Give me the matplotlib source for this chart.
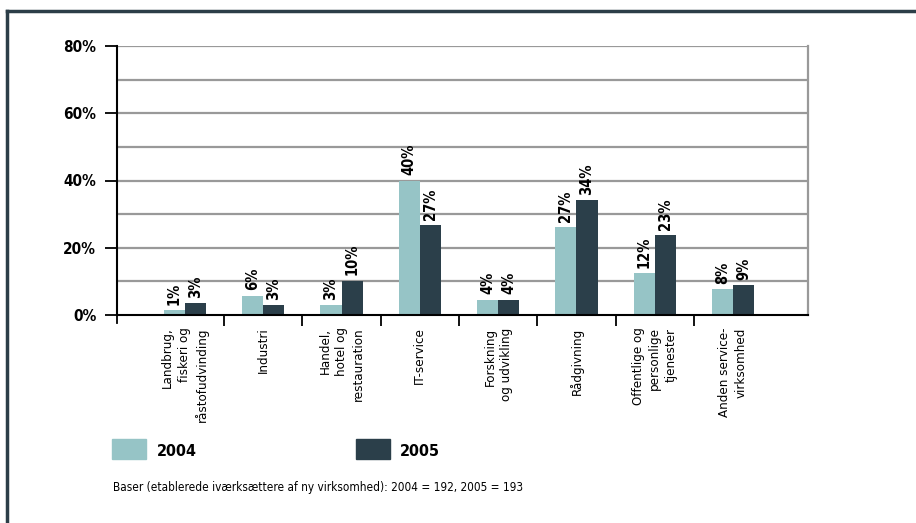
import numpy as np
import matplotlib.pyplot as plt
from matplotlib.lines import Line2D
from matplotlib.patches import Rectangle

plt.rcParams['font.family'] = ['DejaVu Sans']
plt.rcParams['font.stretch'] = 'condensed'
plt.rcParams['font.weight'] = 'bold'

kategorier = ["Landbrug,\nfiskeri og\nråstofudvinding", "Industri", "Handel,\nhotel og\nrestauration",
              "IT-service", "Forskning\nog udvikling", "Rådgivning",
              "Offentlige og\npersonlige\ntjenester", "Anden service-\nvirksomhed"]
v2004 = [1.5, 5.7, 3.0, 40.0, 4.5, 26.2, 12.5, 7.7]
v2005 = [3.6, 3.0, 10.2, 26.8, 4.5, 34.2, 23.8, 8.9]
lab2004 = ["1%", "6%", "3%", "40%", "4%", "27%", "12%", "8%"]
lab2005 = ["3%", "3%", "10%", "27%", "4%", "34%", "23%", "9%"]
yticks = [0, 20, 40, 60, 80]

lys = "#96c4c6"
mork = "#2b3f4a"
kant = "#2c3e48"

fig = plt.figure(figsize=(9.16, 5.23), dpi=100)
W, H = 916, 523
ax = fig.add_axes([117 / W, 1 - 315 / H, (808 - 117) / W, (315 - 46) / H])

x = np.arange(len(kategorier))
bw = 0.27
ax.bar(x - bw / 2, v2004, bw, color=lys, zorder=3)
ax.bar(x + bw / 2, v2005, bw, color=mork, zorder=3)

for i in range(len(x)):
    ax.text(x[i] - bw / 2, v2004[i] + 1.6, lab2004[i], rotation=90, ha='center', va='bottom',
            fontsize=10.5, zorder=4)
    ax.text(x[i] + bw / 2, v2005[i] + 1.6, lab2005[i], rotation=90, ha='center', va='bottom',
            fontsize=10.5, zorder=4)

ax.set_xlim(-0.868, 7.957)
ax.set_ylim(0, 80)
for g in range(10, 81, 10):
    ax.axhline(g, color="#999999", lw=1.6, zorder=1)

ax.set_yticks(yticks)
ax.set_yticklabels([f"{t}%" for t in yticks], fontsize=11)
ax.tick_params(axis='y', length=9, width=1.3, color='black', pad=6)

ax.set_xticks(np.arange(0.5, 7, 1))
ax.set_xticklabels([])
ax.tick_params(axis='x', length=8, width=1.3, color='black')
ax.plot([-0.868, -0.868], [0, -2.5], color='black', lw=1.3, clip_on=False)

for s in ['left', 'bottom']:
    ax.spines[s].set_color('black')
    ax.spines[s].set_linewidth(1.5)
    ax.spines[s].set_zorder(5)
ax.spines['right'].set_color('#999999')
ax.spines['right'].set_linewidth(1.6)
ax.spines['top'].set_visible(False)

for i, k in enumerate(kategorier):
    ax.annotate(k, xy=(x[i], 0), xycoords='data', xytext=(0, -9), textcoords='offset points',
                rotation=90, ha='center', va='top', multialignment='right', fontsize=9.5,
                linespacing=1.35, fontweight='normal')

# ramme: kun top og venstre
fig.add_artist(Line2D([7 / W, 1], [1 - 10.5 / H, 1 - 10.5 / H], color=kant, lw=2.5))
fig.add_artist(Line2D([7 / W, 7 / W], [0, 1 - 10.5 / H], color=kant, lw=2.5))

# legend
fig.add_artist(Rectangle((112 / W, 1 - 459 / H), 34 / W, 20 / H, color=lys))
fig.text(157 / W, 1 - 452 / H, "2004", fontsize=11.5, va='center')
fig.add_artist(Rectangle((356 / W, 1 - 459 / H), 34 / W, 20 / H, color=mork))
fig.text(400 / W, 1 - 452 / H, "2005", fontsize=11.5, va='center')

fig.text(113 / W, 1 - 488 / H, "Baser (etablerede iværksættere af ny virksomhed): 2004 = 192, 2005 = 193",
         fontsize=8.5, va='center', fontweight='normal')

fig.savefig("out.png", dpi=100)
